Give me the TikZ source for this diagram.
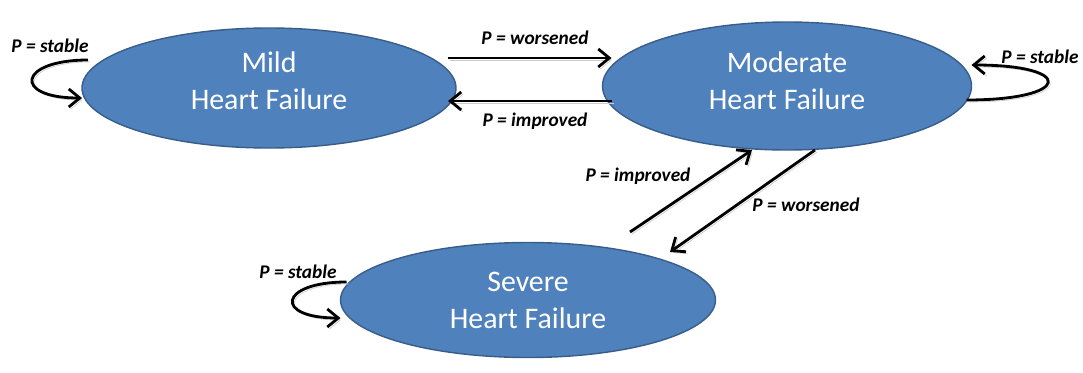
\documentclass[tikz,border=0pt]{standalone}
\usepackage{fontspec}
\setmainfont{Carlito}
\usetikzlibrary{shapes.geometric, arrows.meta}

\definecolor{stateblue}{HTML}{4F81BD}
\definecolor{stateedge}{HTML}{385D8A}

\begin{document}
\begin{tikzpicture}[
    state/.style={ellipse, draw=stateedge, line width=0.8pt, fill=stateblue,
        text=white, align=center, inner sep=0pt, outer sep=0pt,
        font=\fontsize{17}{21}\selectfont},
    trans/.style={line width=1.6pt, -{Straight Barb[length=2.2mm, width=3.6mm]},
        preaction={draw=black!20, transform canvas={shift={(0.04,-0.04)}}}},
    plabel/.style={font=\fontsize{11}{13}\selectfont\bfseries\itshape, inner sep=1pt}]

    \useasboundingbox (0,0) rectangle (21.66,7.44);

    % draw nodes
    \foreach \x/\y/\w/\h/\d/\n/\t in {5.38/5.68/7.48/2.40/0.28/mild/{Mild\\Heart Failure},
        15.74/5.72/7.38/2.56/0.22/moderate/{Moderate\\Heart Failure},
        10.56/1.44/7.50/2.30/0/severe/{Severe\\Heart Failure}}
        \node [state, minimum width=\w cm, minimum height=\h cm, text depth=\d cm]
            (\n) at (\x, \y) {\t};

    % draw edges
    \draw [trans] ([xshift=-0.16cm, yshift=0.6cm]mild.east)
        -- ([xshift=0.18cm, yshift=0.56cm]moderate.west);
    \draw [trans] ([xshift=0.18cm, yshift=-0.3cm]moderate.west)
        -- ([xshift=-0.16cm, yshift=-0.26cm]mild.east);
    \draw [trans] ([xshift=2.04cm, yshift=0.21cm]severe.north)
        -- ([xshift=-0.7cm]moderate.south);
    \draw [trans] ([xshift=0.56cm]moderate.south)
        -- ([xshift=2.84cm, yshift=-0.19cm]severe.north);

    % self loops
    \draw [trans] ([xshift=0.12cm, yshift=0.56cm]mild.west)
        .. controls +(-1.4,0) and +(-1.4,0) .. ([yshift=-0.2cm]mild.west);
    \draw [trans] ([xshift=-0.1cm, yshift=-0.28cm]moderate.east)
        .. controls +(2.1,0) and +(2.1,0) .. ([yshift=0.42cm]moderate.east);
    \draw [trans] ([xshift=0.12cm, yshift=0.36cm]severe.west)
        .. controls +(-1.35,0) and +(-1.35,0) .. ([yshift=-0.36cm]severe.west);

    % draw labels
    \foreach \x/\y/\n/\t in {10.70/6.68/lworse/worsened, 10.70/5.02/limprove/improved,
        12.76/3.92/ldimprove/improved, 16.12/3.34/ldworse/worsened,
        1.00/6.52/lmild/stable, 20.80/6.30/lmoderate/stable, 5.96/2.00/lsevere/stable}
        \node [plabel] (\n) at (\x, \y) {P = \t};

\end{tikzpicture}
\end{document}
